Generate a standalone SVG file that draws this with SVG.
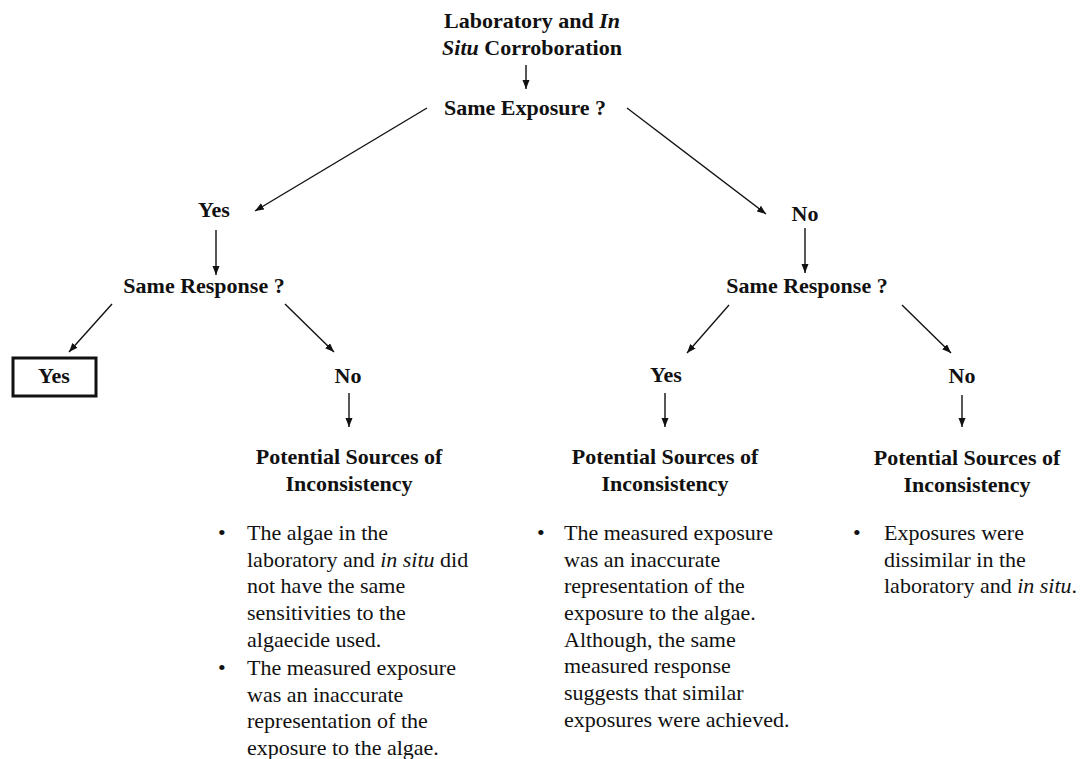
<svg xmlns="http://www.w3.org/2000/svg" width="1083" height="759" viewBox="0 0 1083 759">
<defs>
<marker id="ah" markerUnits="userSpaceOnUse" markerWidth="10" markerHeight="8" refX="9" refY="3.5" orient="auto">
<path d="M0,0 L9,3.5 L0,7 z" fill="#111"/>
</marker>
<style>
.b{font-family:"Liberation Serif","Times New Roman",serif;font-weight:bold;font-size:22px;fill:#111}
.r{font-family:"Liberation Serif","Times New Roman",serif;font-size:22px;fill:#111}
.m{text-anchor:middle}
.c line{stroke:#111;stroke-width:1.4;marker-end:url(#ah)}
</style>
</defs>
<rect width="1083" height="759" fill="#fff"/>
<g class="c" id="connectors">
<line x1="526" y1="65" x2="526" y2="89"/>
<line x1="427" y1="108" x2="255" y2="211"/>
<line x1="627" y1="108" x2="766" y2="214"/>
<line x1="216" y1="230" x2="216" y2="275"/>
<line x1="805" y1="228" x2="805" y2="273"/>
<line x1="112" y1="304" x2="69" y2="352"/>
<line x1="285" y1="304" x2="334" y2="352"/>
<line x1="729" y1="305" x2="687" y2="353"/>
<line x1="902" y1="305" x2="951" y2="353"/>
<line x1="349" y1="393" x2="349" y2="427"/>
<line x1="665" y1="393" x2="665" y2="427"/>
<line x1="962" y1="395" x2="962" y2="427"/>
</g>
<g id="title"><text class="b m" x="532" y="28">Laboratory and <tspan font-style="italic">In</tspan></text>
<text class="b m" x="532" y="55"><tspan font-style="italic">Situ</tspan> Corroboration</text></g>
<g id="q1"><text class="b m" x="525" y="115">Same Exposure ?</text></g>
<g id="yes1"><text class="b m" x="214" y="217">Yes</text></g>
<g id="no1"><text class="b m" x="805" y="221">No</text></g>
<g id="q2"><text class="b m" x="204" y="293">Same Response ?</text></g>
<g id="q3"><text class="b m" x="807" y="293">Same Response ?</text></g>
<g id="yes2"><rect x="13" y="358" width="83" height="38" fill="none" stroke="#111" stroke-width="3"/><text class="b m" x="54" y="383">Yes</text></g>
<g id="no2"><text class="b m" x="348" y="383">No</text></g>
<g id="yes3"><text class="b m" x="666" y="382">Yes</text></g>
<g id="no3"><text class="b m" x="962" y="383">No</text></g>
<g id="src1">
<text class="b m" x="349" y="464">Potential Sources of</text>
<text class="b m" x="349" y="491">Inconsistency</text>
<text class="r" x="218" y="540">•</text>
<text class="r" x="247" y="540">The algae in the</text>
<text class="r" x="247" y="567">laboratory and <tspan font-style="italic">in situ</tspan> did</text>
<text class="r" x="247" y="593">not have the same</text>
<text class="r" x="247" y="620">sensitivities to the</text>
<text class="r" x="247" y="647">algaecide used.</text>
<text class="r" x="218" y="675">•</text>
<text class="r" x="247" y="675">The measured exposure</text>
<text class="r" x="247" y="702">was an inaccurate</text>
<text class="r" x="247" y="728">representation of the</text>
<text class="r" x="247" y="755">exposure to the algae.</text>
</g>
<g id="src2">
<text class="b m" x="665" y="464">Potential Sources of</text>
<text class="b m" x="665" y="491">Inconsistency</text>
<text class="r" x="537" y="540">•</text>
<text class="r" x="564" y="540">The measured exposure</text>
<text class="r" x="564" y="567">was an inaccurate</text>
<text class="r" x="564" y="593">representation of the</text>
<text class="r" x="564" y="620">exposure to the algae.</text>
<text class="r" x="564" y="647">Although, the same</text>
<text class="r" x="564" y="673">measured response</text>
<text class="r" x="564" y="700">suggests that similar</text>
<text class="r" x="564" y="727">exposures were achieved.</text>
</g>
<g id="src3">
<text class="b m" x="967" y="465">Potential Sources of</text>
<text class="b m" x="967" y="492">Inconsistency</text>
<text class="r" x="853" y="540">•</text>
<text class="r" x="884" y="540">Exposures were</text>
<text class="r" x="884" y="567">dissimilar in the</text>
<text class="r" x="884" y="593">laboratory and <tspan font-style="italic">in situ</tspan>.</text>
</g>
</svg>
